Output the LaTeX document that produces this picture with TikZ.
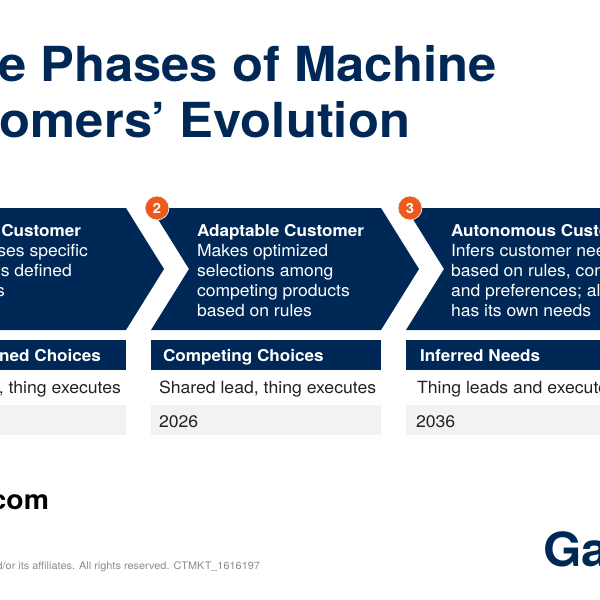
\documentclass[tikz,border=0pt]{standalone}
\usepackage{fontspec}
\setmainfont[FakeStretch=1.05]{TeX Gyre Heros}
\definecolor{navy}{HTML}{002856}
\definecolor{burst}{HTML}{EC5A1E}
\definecolor{pale}{HTML}{F2F2F2}
\definecolor{ink}{HTML}{222222}
\tikzset{
  txt/.style={inner sep=0pt,outer sep=0pt,anchor=base west,font=\fontsize{16.7}{18}\selectfont},
  rtxt/.style={txt,anchor=base east},
  title/.style={rtxt,text=navy,font=\fontsize{48.3}{50}\bfseries\selectfont},
  head/.style={text=white,font=\fontsize{16.3}{18}\bfseries\selectfont},
  body/.style={text=white},
  band/.style={text=white,font=\fontsize{16.3}{18}\bfseries\selectfont},
  plain/.style={text=ink,font=\fontsize{16.8}{18}\selectfont},
  badge/.style={circle,fill=burst,draw=white,line width=0.6pt,minimum size=24pt,inner sep=0pt,text=white,font=\fontsize{14}{14}\bfseries\selectfont},
  navyfill/.style={fill=navy,draw=none},
  palefill/.style={fill=pale,draw=none}
}
\begin{document}
\begin{tikzpicture}[x=1pt,y=-1pt]
\useasboundingbox (0,0) rectangle (600,600);
\clip (0,0) rectangle (600,600);
\fill[white] (0,0) rectangle (600,600);
% title
\node[title] (t1) at (497,81) {e Phases of Machine};
\node[title] (t2) at (410,137) {omers’ Evolution};
% chevrons
\fill[navyfill] (-5,208) -- (126,208) -- (164,269) -- (126,330) -- (-5,330) -- cycle;
\fill[navyfill] (151,208) -- (381,208) -- (419,269) -- (381,330) -- (151,330) -- (189,269) -- cycle;
\fill[navyfill] (406,208) -- (610,208) -- (610,330) -- (406,330) -- (444,269) -- cycle;
% bands
\fill[navyfill] (-5,340) rectangle (126,370);
\fill[navyfill] (151,340) rectangle (381,370);
\fill[navyfill] (406,340) rectangle (610,370);
\fill[palefill] (-5,405) rectangle (126,435);
\fill[palefill] (151,405) rectangle (381,435);
\fill[palefill] (406,405) rectangle (610,435);
% badges
\node[badge] (b2) at (157,208) {2};
\node[badge] (b3) at (410,208) {3};
% column 1
\node[rtxt,head] (h1) at (81,236) {Customer};
\node[rtxt,body] (a1) at (88,256) {ses specific};
\node[rtxt,body] (a2) at (72,276) {s defined};
\node[rtxt,body] (a3) at (5,296) {s};
\node[rtxt,band] (n1) at (101,361) {ned Choices};
\node[rtxt,plain] (l1) at (121,393) {s, thing executes};
% column 2
\node[txt,head] (h2) at (197,236) {Adaptable Customer};
\node[txt,body] (c1) at (197,256) {Makes optimized};
\node[txt,body] (c2) at (197,276) {selections among};
\node[txt,body] (c3) at (197,296) {competing products};
\node[txt,body] (c4) at (197,316) {based on rules};
\node[txt,band] (n2) at (163,361) {Competing Choices};
\node[txt,plain] (l2) at (159,393) {Shared lead, thing executes};
\node[txt,plain] (y2) at (159,427) {2026};
% column 3
\node[txt,head] (h3) at (451,236) {Autonomous Custom};
\node[txt,body] (d1) at (451,256) {Infers customer need};
\node[txt,body] (d2) at (451,276) {based on rules, cont};
\node[txt,body] (d3) at (451,296) {and preferences; als};
\node[txt,body] (d4) at (451,316) {has its own needs};
\node[txt,band] (n3) at (420,361) {Inferred Needs};
\node[txt,plain] (l3) at (417,393) {Thing leads and executes};
\node[txt,plain] (y3) at (416,427) {2036};
% footer
\node[rtxt,text=black,font=\fontsize{27}{30}\bfseries\selectfont] (u) at (49,509) {com};
\node[rtxt,text=black!45,font=\fontsize{10.4}{12}\selectfont] (f) at (260,569) {d/or its affiliates. All rights reserved. CTMKT\_1616197};
\node[txt,text=navy,font=\fontsize{47}{50}\bfseries\selectfont] (g) at (543,566) {Ga};
\end{tikzpicture}
\end{document}
